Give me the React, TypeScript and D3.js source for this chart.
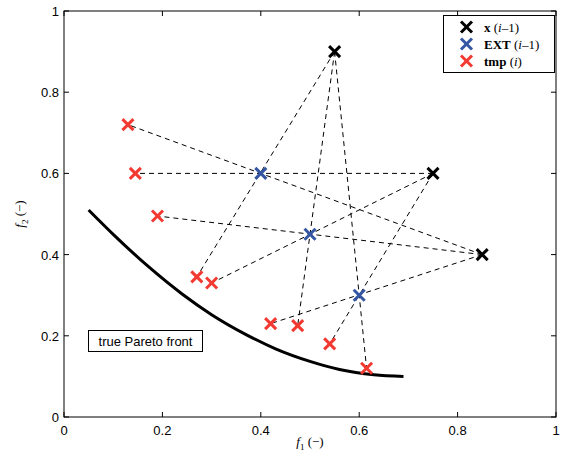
import React from "react";
import * as d3 from "d3";

const xPrev: [number, number][] = [
  [0.55, 0.9],
  [0.75, 0.6],
  [0.85, 0.4],
];
const extPrev: [number, number][] = [
  [0.4, 0.6],
  [0.5, 0.45],
  [0.6, 0.3],
];
const tmpNow: [number, number][] = [
  [0.13, 0.72],
  [0.145, 0.6],
  [0.19, 0.495],
  [0.27, 0.345],
  [0.3, 0.33],
  [0.42, 0.23],
  [0.475, 0.225],
  [0.54, 0.18],
  [0.615, 0.12],
];
// links: [index in xPrev, index in tmpNow] (each passes through an EXT point)
const links: [number, number][] = [
  [0, 3], [0, 6], [0, 8],
  [1, 1], [1, 4], [1, 7],
  [2, 0], [2, 2], [2, 5],
];
const frontX = [0.05, 0.1, 0.17, 0.24, 0.3, 0.37, 0.43, 0.5, 0.56, 0.63, 0.69];
const frontY = [0.51, 0.45, 0.372, 0.303, 0.252, 0.203, 0.168, 0.137, 0.117, 0.104, 0.1];
const ticks = [0, 0.2, 0.4, 0.6, 0.8, 1];

const W = 562, H = 456;
const L = 64, R = 556, T = 11, B = 417;
const RED = "#f23a32";
const BLUE = "#3556a3";

function Cross({ x, y, color, s = 5.5 }: { x: number; y: number; color: string; s?: number }) {
  return (
    <g stroke={color} strokeWidth={3} strokeLinecap="butt">
      <line x1={x - s} y1={y - s} x2={x + s} y2={y + s} />
      <line x1={x - s} y1={y + s} x2={x + s} y2={y - s} />
    </g>
  );
}

export default function App() {
  const xs = d3.scaleLinear().domain([0, 1]).range([L, R]);
  const ys = d3.scaleLinear().domain([0, 1]).range([B, T]);
  const front = frontX.map((x, i) => [x, frontY[i]] as [number, number]);
  const lineGen = d3.line<[number, number]>().x(d => xs(d[0])).y(d => ys(d[1])).curve(d3.curveMonotoneX);
  const sans = "'Liberation Sans', Arial, sans-serif";
  const serif = "'Liberation Serif', 'Times New Roman', serif";
  return (
    <svg width={W} height={H} style={{ position: "absolute", left: 0, top: 0, background: "#fff" }}>
      <rect x={0} y={0} width={W} height={H} fill="#fff" />
      {links.map(([a, b], i) => (
        <line key={i} x1={xs(xPrev[a][0])} y1={ys(xPrev[a][1])} x2={xs(tmpNow[b][0])} y2={ys(tmpNow[b][1])}
          stroke="#000" strokeWidth={1} strokeDasharray="5,4" />
      ))}
      <path d={lineGen(front) || ""} fill="none" stroke="#000" strokeWidth={3} />
      {tmpNow.map((p, i) => <Cross key={"t" + i} x={xs(p[0])} y={ys(p[1])} color={RED} />)}
      {extPrev.map((p, i) => <Cross key={"e" + i} x={xs(p[0])} y={ys(p[1])} color={BLUE} />)}
      {xPrev.map((p, i) => <Cross key={"x" + i} x={xs(p[0])} y={ys(p[1])} color="#000" />)}
      <rect x={L} y={T} width={R - L} height={B - T} fill="none" stroke="#000" strokeWidth={1} />
      {ticks.map(t => (
        <g key={"tx" + t}>
          <line x1={xs(t)} x2={xs(t)} y1={B} y2={B - 5} stroke="#000" />
          <line x1={xs(t)} x2={xs(t)} y1={T} y2={T + 5} stroke="#000" />
          <text x={xs(t)} y={B + 18} fontFamily={sans} fontSize={13} textAnchor="middle">{String(t)}</text>
          <line y1={ys(t)} y2={ys(t)} x1={L} x2={L + 5} stroke="#000" />
          <line y1={ys(t)} y2={ys(t)} x1={R} x2={R - 5} stroke="#000" />
          <text x={L - 5} y={ys(t) + 5} fontFamily={sans} fontSize={13} textAnchor="end">{String(t)}</text>
        </g>
      ))}
      <text x={310} y={446} fontFamily={serif} fontSize={13} textAnchor="middle">
        <tspan fontStyle="italic">f</tspan><tspan fontSize={9} dy={4}>1</tspan><tspan dy={-4}> (−)</tspan>
      </text>
      <text transform={`translate(24,${ys(0.5)}) rotate(-90)`} fontFamily={serif} fontSize={13} textAnchor="middle">
        <tspan fontStyle="italic">f</tspan><tspan fontSize={9} dy={4}>2</tspan><tspan dy={-4}> (−)</tspan>
      </text>
      <rect x={88.5} y={330.5} width={114} height={21} fill="#fff" stroke="#000" strokeWidth={1} />
      <text x={145.5} y={346} fontFamily={sans} fontSize={13} textAnchor="middle">true Pareto front</text>
      <rect x={443.5} y={15.5} width={111} height={57} fill="#fff" stroke="#000" strokeWidth={1} />
      <Cross x={466.5} y={27} color="#000" />
      <Cross x={466.5} y={44} color={BLUE} />
      <Cross x={466.5} y={61} color={RED} />
      <text x={484} y={31.5} fontFamily={serif} fontSize={13}>
        <tspan fontWeight="bold">x</tspan> (<tspan fontStyle="italic">i</tspan>–1)
      </text>
      <text x={484} y={48.5} fontFamily={serif} fontSize={13}>
        <tspan fontWeight="bold">EXT</tspan> (<tspan fontStyle="italic">i</tspan>–1)
      </text>
      <text x={484} y={65.5} fontFamily={serif} fontSize={13}>
        <tspan fontWeight="bold">tmp</tspan> (<tspan fontStyle="italic">i</tspan>)
      </text>
    </svg>
  );
}
